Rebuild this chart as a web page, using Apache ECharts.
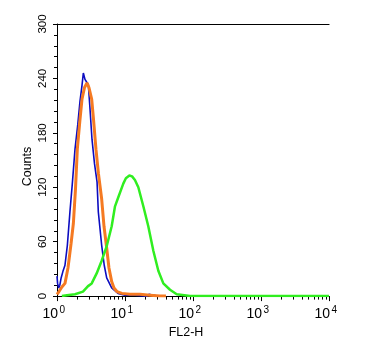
<!DOCTYPE html>
<html>
<head>
<meta charset="utf-8">
<script src="https://cdn.jsdelivr.net/npm/echarts@6/dist/echarts.min.js"></script>
<style>
html,body{margin:0;padding:0;background:#fff;}
#chart{width:379px;height:344px;}
</style>
</head>
<body>
<div id="chart"></div>
<script>
// FL2-H intensity (x) and counts (y) for each histogram
const blueX = [1.00,1.02,1.06,1.10,1.15,1.22,1.31,1.42,1.55,1.68,1.84,2.02,2.18,2.33,2.44,2.58,2.89,3.06,3.27,3.56,3.88,4.05,4.54,4.95,5.38,6.37,7.9,10,14,21,22.5,24,30];
const blueY = [22,14,9,12,20,27,34,56,93,124,162,189,215,232,246,239,233,206,173,146,126,93,56,34,20,9,3,1,1,0,2,0,0];

const orangeX = [1.00,1.07,1.18,1.31,1.45,1.61,1.74,1.87,1.99,2.18,2.33,2.54,2.76,2.95,3.24,3.44,3.74,4.07,4.54,4.91,5.38,5.81,6.37,6.89,7.61,9.0,11.8,16.6,23.3,32.6,40];
const orangeY = [2,5,10,14,31,58,80,118,162,195,217,230,235,230,217,195,162,135,107,77,53,31,16,9,5,3,2,2,1,0,0];

const greenX = [1.18,1.40,1.84,2.41,2.86,3.24,3.83,4.54,5.38,6.37,7.13,7.97,9.44,10.3,11.6,12.7,14.0,15.7,18.6,22.0,26.1,30.9,36.6,45.9,57.6,90.4,10000];
const greenY = [0,1,2,5,11,14,25,39,55,77,99,109,124,130,133,132,128,120,99,77,50,28,14,7,2,0,0];

const yTicks = [0,60,120,180,240,300];
const xDecades = [0,1,2,3,4];

function pairs(xs, ys){ return xs.map((x,i)=>[x, ys[i]]); }

const minorTickVals = [];
xDecades.slice(0,4).forEach(n => { for (let k=2;k<=9;k++) minorTickVals.push(Math.log10(k*Math.pow(10,n))); });

const narrow = "'Liberation Sans Narrow','Arial Narrow','Liberation Sans',Arial,sans-serif";
const regular = "'Liberation Sans',Arial,sans-serif";

const chart = echarts.init(document.getElementById('chart'), null, {renderer:'canvas'});
chart.setOption({
  animation:false,
  backgroundColor:'#fff',
  grid:{left:57, right:50, top:24, bottom:45, containLabel:false},
  xAxis:[
    {
      type:'log', logBase:10, min:1, max:10000,
      position:'bottom',
      name:'FL2-H', nameLocation:'middle', nameGap:24,
      nameTextStyle:{fontFamily:narrow, fontSize:12.5, color:'#000', padding:[0,14,0,0]},
      axisLine:{show:true, lineStyle:{color:'#000', width:1}},
      axisTick:{show:true, length:5, inside:false, lineStyle:{color:'#000', width:1}},
      splitLine:{show:false},
      minorTick:{show:false},
      axisLabel:{
        show:true, margin:9, color:'#000',
        formatter: v => '{b|10}{s|' + Math.round(Math.log10(v)) + '}',
        padding:[0,6.5,0,0],
        rich:{
          b:{fontFamily:narrow, fontSize:14, lineHeight:18, color:'#000'},
          s:{fontFamily:narrow, fontSize:10, lineHeight:8, verticalAlign:'top', color:'#000', padding:[0,0,0,1.5]}
        }
      }
    },
    {
      type:'value', min:0, max:4, position:'bottom',
      axisLine:{show:false},
      axisTick:{show:true, length:3.5, customValues:minorTickVals, lineStyle:{color:'#000', width:1}},
      axisLabel:{show:false},
      splitLine:{show:false}
    },
    {
      type:'value', min:0, max:4, position:'top',
      axisLine:{show:true, lineStyle:{color:'#000', width:1.2}},
      axisTick:{show:false}, axisLabel:{show:false}, splitLine:{show:false}
    }
  ],
  yAxis:{
    type:'value', min:0, max:300, interval:60,
    name:'Counts', nameLocation:'middle', nameGap:23, nameMoveOverlap:false,
    nameTextStyle:{fontFamily:narrow, fontSize:12.5, color:'#000', padding:[0,13,0,0]},
    axisLine:{show:true, lineStyle:{color:'#000', width:1}},
    axisTick:{show:true, length:4, lineStyle:{color:'#000', width:1}},
    minorTick:{show:true, splitNumber:5, length:3, lineStyle:{color:'#000', width:1}},
    splitLine:{show:false}, minorSplitLine:{show:false},
    axisLabel:{rotate:90, margin:8, fontFamily:regular, fontSize:11.5, color:'#000',
      formatter: v => yTicks.indexOf(v) >= 0 ? String(v) : ''}
  },
  series:[
    {type:'line', xAxisIndex:0, data:pairs(blueX, blueY), showSymbol:false, lineStyle:{color:'#0c0cc0', width:1.6}, z:2},
    {type:'line', xAxisIndex:0, data:pairs(orangeX, orangeY), showSymbol:false, lineStyle:{color:'#f57a22', width:3}, z:3},
    {type:'line', xAxisIndex:0, data:pairs(greenX, greenY), showSymbol:false, lineStyle:{color:'#30ee20', width:2.5}, z:4}
  ]
});
</script>
</body>
</html>
